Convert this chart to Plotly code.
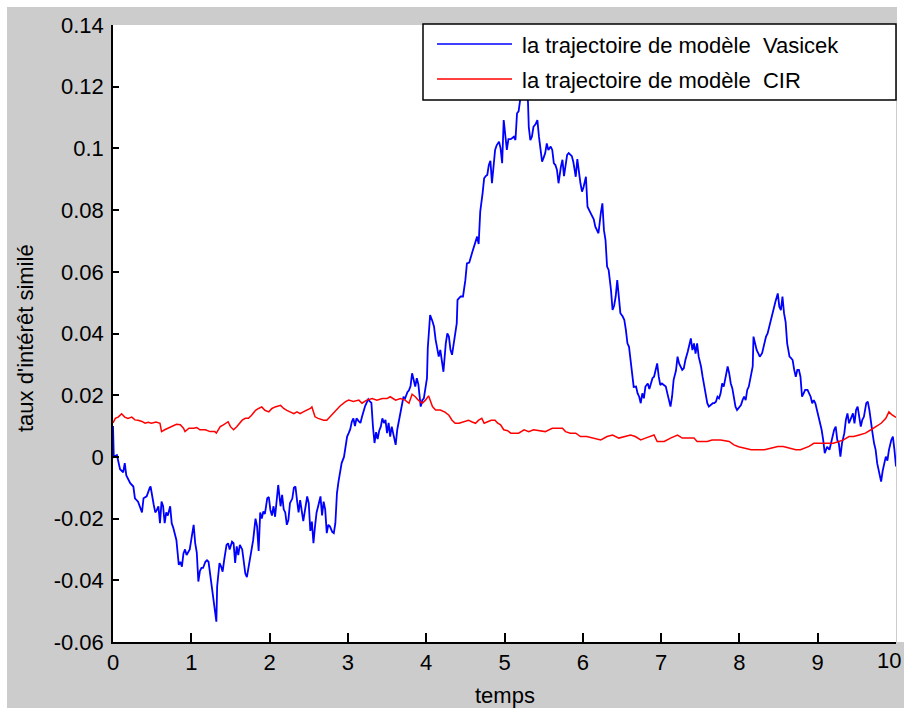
import plotly.graph_objects as go

# ---- simulated short-rate paths ----
vasicek_t = [0.00, 0.01, 0.05, 0.09, 0.13, 0.15, 0.17, 0.22, 0.26, 0.28, 0.32, 0.37, 0.39, 0.43, 0.47, 0.48,
             0.52, 0.54, 0.56, 0.58, 0.60, 0.62, 0.64, 0.66, 0.68, 0.70, 0.73, 0.75, 0.77, 0.81, 0.84, 0.86,
             0.88, 0.90, 0.92, 0.94, 0.98, 1.01, 1.03, 1.05, 1.07, 1.09, 1.11, 1.13, 1.15, 1.18, 1.20, 1.22,
             1.24, 1.26, 1.28, 1.30, 1.32, 1.33, 1.36, 1.38, 1.40, 1.42, 1.45, 1.47, 1.49, 1.52, 1.54, 1.56,
             1.58, 1.60, 1.62, 1.65, 1.69, 1.71, 1.74, 1.77, 1.79, 1.82, 1.84, 1.86, 1.88, 1.90, 1.92, 1.94,
             1.97, 1.99, 2.01, 2.03, 2.05, 2.07, 2.09, 2.11, 2.14, 2.16, 2.18, 2.20, 2.22, 2.24, 2.26, 2.29,
             2.31, 2.33, 2.35, 2.37, 2.39, 2.41, 2.43, 2.46, 2.48, 2.50, 2.52, 2.54, 2.56, 2.58, 2.60, 2.62,
             2.65, 2.67, 2.69, 2.71, 2.73, 2.75, 2.77, 2.80, 2.82, 2.84, 2.86, 2.88, 2.90, 2.92, 2.95, 2.97,
             2.99, 3.01, 3.03, 3.05, 3.07, 3.09, 3.11, 3.14, 3.16, 3.18, 3.20, 3.22, 3.24, 3.26, 3.28, 3.30,
             3.32, 3.34, 3.36, 3.38, 3.40, 3.42, 3.44, 3.46, 3.48, 3.50, 3.52, 3.54, 3.56, 3.58, 3.61, 3.63,
             3.65, 3.67, 3.69, 3.71, 3.73, 3.76, 3.78, 3.80, 3.82, 3.84, 3.86, 3.88, 3.90, 3.93, 3.95, 3.97,
             3.99, 4.01, 4.02, 4.04, 4.05, 4.08, 4.10, 4.12, 4.14, 4.16, 4.18, 4.20, 4.22, 4.25, 4.27, 4.29,
             4.31, 4.33, 4.35, 4.37, 4.39, 4.40, 4.44, 4.47, 4.50, 4.52, 4.55, 4.59, 4.62, 4.65, 4.67, 4.69,
             4.72, 4.74, 4.76, 4.78, 4.80, 4.82, 4.84, 4.86, 4.88, 4.90, 4.93, 4.95, 4.97, 4.99, 5.01, 5.03,
             5.05, 5.08, 5.12, 5.14, 5.16, 5.18, 5.20, 5.22, 5.25, 5.27, 5.29, 5.30, 5.31, 5.33, 5.35, 5.37,
             5.40, 5.42, 5.44, 5.46, 5.48, 5.50, 5.52, 5.54, 5.56, 5.59, 5.61, 5.63, 5.65, 5.67, 5.69, 5.72,
             5.74, 5.76, 5.78, 5.80, 5.82, 5.84, 5.86, 5.88, 5.91, 5.93, 5.95, 5.97, 5.99, 6.01, 6.04, 6.06,
             6.10, 6.14, 6.16, 6.18, 6.20, 6.23, 6.25, 6.27, 6.29, 6.31, 6.33, 6.36, 6.38, 6.40, 6.42, 6.44,
             6.46, 6.48, 6.51, 6.53, 6.55, 6.57, 6.59, 6.61, 6.63, 6.65, 6.68, 6.70, 6.72, 6.74, 6.76, 6.78,
             6.80, 6.83, 6.85, 6.87, 6.89, 6.91, 6.93, 6.95, 6.97, 6.99, 7.01, 7.04, 7.06, 7.08, 7.10, 7.12,
             7.14, 7.16, 7.19, 7.21, 7.23, 7.25, 7.27, 7.29, 7.31, 7.34, 7.36, 7.38, 7.40, 7.42, 7.44, 7.46,
             7.48, 7.51, 7.53, 7.55, 7.57, 7.59, 7.61, 7.64, 7.66, 7.68, 7.70, 7.72, 7.74, 7.76, 7.78, 7.80,
             7.82, 7.85, 7.87, 7.89, 7.91, 7.93, 7.95, 7.97, 8.00, 8.02, 8.04, 8.06, 8.08, 8.10, 8.12, 8.14,
             8.17, 8.18, 8.20, 8.22, 8.24, 8.26, 8.29, 8.31, 8.34, 8.36, 8.38, 8.40, 8.42, 8.44, 8.46, 8.49,
             8.51, 8.53, 8.55, 8.57, 8.59, 8.61, 8.64, 8.66, 8.68, 8.70, 8.72, 8.74, 8.76, 8.78, 8.80, 8.82,
             8.84, 8.87, 8.89, 8.91, 8.93, 8.95, 8.97, 8.99, 9.01, 9.03, 9.05, 9.07, 9.09, 9.12, 9.15, 9.17,
             9.19, 9.21, 9.23, 9.25, 9.27, 9.29, 9.31, 9.34, 9.36, 9.38, 9.40, 9.43, 9.45, 9.47, 9.49, 9.51,
             9.53, 9.55, 9.57, 9.59, 9.62, 9.64, 9.66, 9.68, 9.70, 9.72, 9.74, 9.76, 9.78, 9.81, 9.83, 9.85,
             9.87, 9.89, 9.91, 9.94, 9.96, 9.98, 10.00]

vasicek_r = [0.0100, 0.0000, 0.0006, -0.0040, -0.0050, -0.0020, -0.0060, -0.0085, -0.0096, -0.0134, -0.0145,
             -0.0180, -0.0134, -0.0128, -0.0100, -0.0096, -0.0155, -0.0180, -0.0172, -0.0160, -0.0215, -0.0145,
             -0.0160, -0.0215, -0.0180, -0.0190, -0.0160, -0.0215, -0.0230, -0.0270, -0.0350, -0.0340, -0.0356,
             -0.0313, -0.0300, -0.0318, -0.0300, -0.0259, -0.0220, -0.0280, -0.0310, -0.0404, -0.0370, -0.0360,
             -0.0360, -0.0340, -0.0335, -0.0340, -0.0378, -0.0428, -0.0465, -0.0486, -0.0534, -0.0420, -0.0344,
             -0.0355, -0.0372, -0.0334, -0.0285, -0.0280, -0.0300, -0.0275, -0.0280, -0.0344, -0.0290, -0.0318,
             -0.0285, -0.0300, -0.0378, -0.0390, -0.0340, -0.0300, -0.0270, -0.0200, -0.0225, -0.0305, -0.0180,
             -0.0200, -0.0177, -0.0185, -0.0134, -0.0130, -0.0172, -0.0190, -0.0160, -0.0194, -0.0140, -0.0091,
             -0.0160, -0.0123, -0.0170, -0.0180, -0.0220, -0.0205, -0.0150, -0.0135, -0.0100, -0.0096, -0.0140,
             -0.0180, -0.0140, -0.0170, -0.0208, -0.0160, -0.0128, -0.0150, -0.0240, -0.0210, -0.0280, -0.0225,
             -0.0180, -0.0160, -0.0128, -0.0190, -0.0145, -0.0170, -0.0247, -0.0220, -0.0225, -0.0243, -0.0247,
             -0.0215, -0.0118, -0.0080, -0.0045, -0.0020, 0.0000, 0.0030, 0.0066, 0.0077, 0.0090, 0.0114,
             0.0125, 0.0100, 0.0125, 0.0115, 0.0110, 0.0130, 0.0149, 0.0165, 0.0176, 0.0187, 0.0180, 0.0175,
             0.0098, 0.0045, 0.0080, 0.0058, 0.0085, 0.0098, 0.0125, 0.0110, 0.0120, 0.0077, 0.0110, 0.0066,
             0.0098, 0.0077, 0.0039, 0.0088, 0.0114, 0.0140, 0.0173, 0.0195, 0.0189, 0.0210, 0.0216, 0.0230,
             0.0271, 0.0244, 0.0228, 0.0255, 0.0235, 0.0163, 0.0184, 0.0190, 0.0219, 0.0255, 0.0352, 0.0422,
             0.0460, 0.0440, 0.0422, 0.0380, 0.0347, 0.0325, 0.0347, 0.0309, 0.0276, 0.0368, 0.0400, 0.0390,
             0.0347, 0.0331, 0.0370, 0.0393, 0.0433, 0.0509, 0.0520, 0.0520, 0.0573, 0.0627, 0.0630, 0.0665,
             0.0692, 0.0714, 0.0690, 0.0795, 0.0854, 0.0903, 0.0910, 0.0914, 0.0946, 0.0960, 0.0887, 0.0940,
             0.0995, 0.1010, 0.1022, 0.1000, 0.0952, 0.1092, 0.1050, 0.0995, 0.1030, 0.1030, 0.1038, 0.1027,
             0.1114, 0.1120, 0.1157, 0.1170, 0.1179, 0.1210, 0.1180, 0.1150, 0.1070, 0.1027, 0.1038, 0.1070,
             0.1080, 0.1092, 0.1038, 0.0989, 0.0957, 0.0970, 0.0985, 0.1016, 0.0995, 0.1006, 0.0995, 0.0952,
             0.0946, 0.0930, 0.0887, 0.0940, 0.0963, 0.0910, 0.0950, 0.0979, 0.0985, 0.0979, 0.0975, 0.0955,
             0.0908, 0.0965, 0.0920, 0.0887, 0.0860, 0.0875, 0.0908, 0.0811, 0.0790, 0.0770, 0.0746, 0.0735,
             0.0725, 0.0790, 0.0822, 0.0735, 0.0703, 0.0617, 0.0606, 0.0541, 0.0476, 0.0490, 0.0520, 0.0573,
             0.0520, 0.0466, 0.0455, 0.0444, 0.0412, 0.0368, 0.0357, 0.0314, 0.0260, 0.0227, 0.0228, 0.0206,
             0.0195, 0.0174, 0.0206, 0.0190, 0.0228, 0.0238, 0.0220, 0.0238, 0.0255, 0.0260, 0.0280, 0.0303,
             0.0260, 0.0233, 0.0238, 0.0233, 0.0228, 0.0206, 0.0180, 0.0163, 0.0195, 0.0250, 0.0280, 0.0325,
             0.0303, 0.0293, 0.0282, 0.0287, 0.0314, 0.0341, 0.0363, 0.0384, 0.0346, 0.0368, 0.0335, 0.0368,
             0.0325, 0.0293, 0.0260, 0.0228, 0.0195, 0.0174, 0.0163, 0.0168, 0.0174, 0.0174, 0.0179, 0.0195,
             0.0190, 0.0206, 0.0238, 0.0228, 0.0260, 0.0293, 0.0271, 0.0238, 0.0222, 0.0184, 0.0163, 0.0152,
             0.0163, 0.0168, 0.0184, 0.0195, 0.0184, 0.0217, 0.0228, 0.0260, 0.0293, 0.0390, 0.0368, 0.0347,
             0.0336, 0.0325, 0.0336, 0.0357, 0.0390, 0.0400, 0.0422, 0.0444, 0.0466, 0.0487, 0.0503, 0.0530,
             0.0487, 0.0476, 0.0520, 0.0466, 0.0438, 0.0368, 0.0325, 0.0320, 0.0314, 0.0282, 0.0260, 0.0282,
             0.0282, 0.0260, 0.0195, 0.0206, 0.0217, 0.0217, 0.0206, 0.0195, 0.0174, 0.0184, 0.0174, 0.0152,
             0.0130, 0.0109, 0.0088, 0.0055, 0.0012, 0.0033, 0.0023, 0.0044, 0.0066, 0.0088, 0.0098, 0.0055,
             0.0044, 0.0001, 0.0044, 0.0077, 0.0120, 0.0141, 0.0109, 0.0130, 0.0141, 0.0109, 0.0152, 0.0163,
             0.0130, 0.0098, 0.0120, 0.0130, 0.0174, 0.0179, 0.0152, 0.0109, 0.0077, 0.0044, 0.0023, -0.0021,
             -0.0045, -0.0080, -0.0045, -0.0021, 0.0001, -0.0012, 0.0023, 0.0055, 0.0066, 0.0023, -0.0031]

cir_t = [0.00, 0.03, 0.07, 0.11, 0.15, 0.19, 0.24, 0.28, 0.32, 0.37, 0.41, 0.45, 0.49, 0.55, 0.60, 0.62,
         0.66, 0.70, 0.75, 0.81, 0.86, 0.90, 0.92, 0.97, 1.03, 1.07, 1.11, 1.18, 1.24, 1.30, 1.32, 1.37,
         1.41, 1.45, 1.47, 1.50, 1.54, 1.58, 1.62, 1.65, 1.69, 1.73, 1.77, 1.82, 1.86, 1.90, 1.94, 1.99,
         2.03, 2.07, 2.14, 2.18, 2.22, 2.26, 2.31, 2.35, 2.39, 2.43, 2.48, 2.52, 2.54, 2.58, 2.62, 2.69,
         2.73, 2.77, 2.82, 2.86, 2.90, 2.97, 3.01, 3.07, 3.14, 3.18, 3.24, 3.31, 3.37, 3.44, 3.50, 3.54,
         3.61, 3.67, 3.73, 3.78, 3.82, 3.86, 3.90, 3.95, 3.99, 4.03, 4.06, 4.08, 4.12, 4.18, 4.24, 4.29,
         4.33, 4.37, 4.42, 4.46, 4.50, 4.54, 4.58, 4.63, 4.67, 4.71, 4.74, 4.78, 4.83, 4.88, 4.91, 4.95,
         4.99, 5.04, 5.08, 5.12, 5.18, 5.25, 5.31, 5.37, 5.44, 5.52, 5.61, 5.67, 5.74, 5.78, 5.84, 5.91,
         5.97, 6.05, 6.14, 6.23, 6.31, 6.38, 6.46, 6.53, 6.61, 6.67, 6.74, 6.80, 6.87, 6.91, 6.95, 7.04,
         7.12, 7.21, 7.27, 7.36, 7.42, 7.46, 7.53, 7.59, 7.65, 7.76, 7.87, 7.93, 7.99, 8.06, 8.15, 8.24,
         8.32, 8.40, 8.49, 8.56, 8.64, 8.72, 8.78, 8.84, 8.89, 8.95, 9.03, 9.12, 9.20, 9.27, 9.33, 9.40,
         9.46, 9.53, 9.61, 9.68, 9.74, 9.81, 9.87, 9.91, 9.95, 9.98, 10.00]

cir_r = [0.0110, 0.0125, 0.0130, 0.0140, 0.0129, 0.0125, 0.0129, 0.0120, 0.0119, 0.0115, 0.0109, 0.0112,
         0.0109, 0.0113, 0.0109, 0.0082, 0.0088, 0.0093, 0.0098, 0.0106, 0.0104, 0.0093, 0.0082, 0.0093,
         0.0093, 0.0095, 0.0088, 0.0088, 0.0082, 0.0082, 0.0077, 0.0098, 0.0104, 0.0109, 0.0114, 0.0098,
         0.0088, 0.0098, 0.0109, 0.0119, 0.0125, 0.0125, 0.0135, 0.0151, 0.0157, 0.0162, 0.0151, 0.0146,
         0.0157, 0.0162, 0.0167, 0.0157, 0.0151, 0.0146, 0.0140, 0.0146, 0.0140, 0.0146, 0.0151, 0.0157,
         0.0162, 0.0130, 0.0125, 0.0119, 0.0119, 0.0130, 0.0146, 0.0157, 0.0165, 0.0179, 0.0184, 0.0180,
         0.0184, 0.0174, 0.0184, 0.0189, 0.0184, 0.0189, 0.0189, 0.0195, 0.0184, 0.0189, 0.0184, 0.0174,
         0.0203, 0.0195, 0.0184, 0.0174, 0.0184, 0.0198, 0.0180, 0.0163, 0.0152, 0.0152, 0.0145, 0.0135,
         0.0119, 0.0109, 0.0109, 0.0112, 0.0114, 0.0119, 0.0114, 0.0109, 0.0119, 0.0125, 0.0109, 0.0114,
         0.0119, 0.0119, 0.0110, 0.0104, 0.0088, 0.0085, 0.0077, 0.0077, 0.0077, 0.0088, 0.0082, 0.0088,
         0.0085, 0.0082, 0.0093, 0.0093, 0.0093, 0.0082, 0.0077, 0.0077, 0.0066, 0.0066, 0.0061, 0.0055,
         0.0066, 0.0071, 0.0061, 0.0066, 0.0071, 0.0066, 0.0055, 0.0061, 0.0066, 0.0071, 0.0050, 0.0050,
         0.0061, 0.0071, 0.0061, 0.0061, 0.0061, 0.0050, 0.0050, 0.0050, 0.0055, 0.0055, 0.0050, 0.0039,
         0.0033, 0.0028, 0.0023, 0.0023, 0.0023, 0.0028, 0.0034, 0.0034, 0.0028, 0.0023, 0.0023, 0.0028,
         0.0034, 0.0044, 0.0044, 0.0044, 0.0044, 0.0050, 0.0055, 0.0066, 0.0066, 0.0071, 0.0077, 0.0088,
         0.0098, 0.0109, 0.0125, 0.0146, 0.0136, 0.0130, 0.0128]

series_names = ["la trajectoire de modèle  Vasicek", "la trajectoire de modèle  CIR"]
series_colors = ["#0000ff", "#ff0000"]

x_ticks = list(range(0, 11))
x_tick_text = [str(v) for v in x_ticks]
y_ticks = [-0.06, -0.04, -0.02, 0.0, 0.02, 0.04, 0.06, 0.08, 0.10, 0.12, 0.14]
y_tick_text = ["-0.06", "-0.04", "-0.02", "0", "0.02", "0.04", "0.06", "0.08", "0.1", "0.12", "0.14"]

x_title = "temps"
y_title = "taux d'intérêt similé"

FONT = "Liberation Sans, Arial, sans-serif"
FIG_BG = "#cccccc"

W, H = 904, 709
ML, MR, MT, MB = 113, 8, 25, 67
PW, PH = W - ML - MR, H - MT - MB


def px_x(p):
    """pixel column -> paper x"""
    return (p - ML) / PW


def px_y(p):
    """pixel row -> paper y"""
    return (H - MB - p) / PH


fig = go.Figure()
fig.add_trace(go.Scatter(x=vasicek_t, y=vasicek_r, mode="lines", name=series_names[0],
                         line=dict(color=series_colors[0], width=1.8), showlegend=False))
fig.add_trace(go.Scatter(x=cir_t, y=cir_r, mode="lines", name=series_names[1],
                         line=dict(color=series_colors[1], width=1.5), showlegend=False))

shapes = []
# thin white outer frame on left / top / right / bottom
for x0, x1, y0, y1 in [(0, 7, 0, H), (0, W, 0, 7), (897, W, 0, H - MB), (0, W, 708, H)]:
    shapes.append(dict(type="rect", xref="paper", yref="paper",
                       x0=px_x(x0), x1=px_x(x1), y0=px_y(y1), y1=px_y(y0),
                       fillcolor="white", line=dict(width=0), layer="above"))

# boxed legend drawn over the curves
shapes.append(dict(type="rect", xref="paper", yref="paper",
                   x0=px_x(423), x1=px_x(896), y0=px_y(100), y1=px_y(24),
                   fillcolor="white", line=dict(color="black", width=1.5), layer="above"))
annotations = []
for i, (name, col) in enumerate(zip(series_names, series_colors)):
    yrow = 44 + 35 * i
    shapes.append(dict(type="line", xref="paper", yref="paper",
                       x0=px_x(437), x1=px_x(512), y0=px_y(yrow), y1=px_y(yrow),
                       line=dict(color=col, width=1.5), layer="above"))
    annotations.append(dict(xref="paper", yref="paper", x=px_x(520), y=px_y(yrow + 1),
                            xanchor="left", yanchor="middle", showarrow=False, text=name,
                            font=dict(family=FONT, size=22, color="black")))

# last x tick label sits at the figure edge; keep it fully inside the canvas
annotations.append(dict(xref="paper", yref="paper", x=px_x(903), y=px_y(661), xanchor="right",
                        yanchor="middle", showarrow=False, text=x_tick_text[-1],
                        font=dict(family=FONT, size=22, color="black")))

# axis titles
annotations.append(dict(xref="paper", yref="paper", x=0.5, y=px_y(695), xanchor="center",
                        yanchor="middle", showarrow=False, text=x_title,
                        font=dict(family=FONT, size=22, color="black")))
annotations.append(dict(xref="paper", yref="paper", x=px_x(25), y=px_y(338), xanchor="center",
                        yanchor="middle", showarrow=False, text=y_title, textangle=-90,
                        font=dict(family=FONT, size=22, color="black")))

fig.update_layout(
    width=W, height=H,
    margin=dict(l=ML, r=MR, t=MT, b=MB, pad=0),
    paper_bgcolor=FIG_BG, plot_bgcolor="white",
    font=dict(family=FONT, size=22, color="black"),
    shapes=shapes, annotations=annotations,
    showlegend=False,
)
fig.update_xaxes(range=[0, 10], tickvals=x_ticks, ticktext=x_tick_text[:-1] + [""], ticks="inside",
                 ticklen=9, tickwidth=1.5,
                 tickcolor="black", showline=True, linecolor="black", linewidth=1.5,
                 showgrid=False, zeroline=False, mirror=False, ticklabelstandoff=0,
                 tickfont=dict(family=FONT, size=22, color="black"))
fig.update_yaxes(range=[-0.06, 0.14], tickvals=y_ticks, ticktext=y_tick_text, ticks="inside",
                 ticklen=6, tickwidth=1.5, tickcolor="black", showline=True, linecolor="black",
                 linewidth=1.5, showgrid=False, zeroline=False, mirror=False, ticklabelstandoff=3,
                 tickfont=dict(family=FONT, size=22, color="black"))

fig.write_html("out.html")
